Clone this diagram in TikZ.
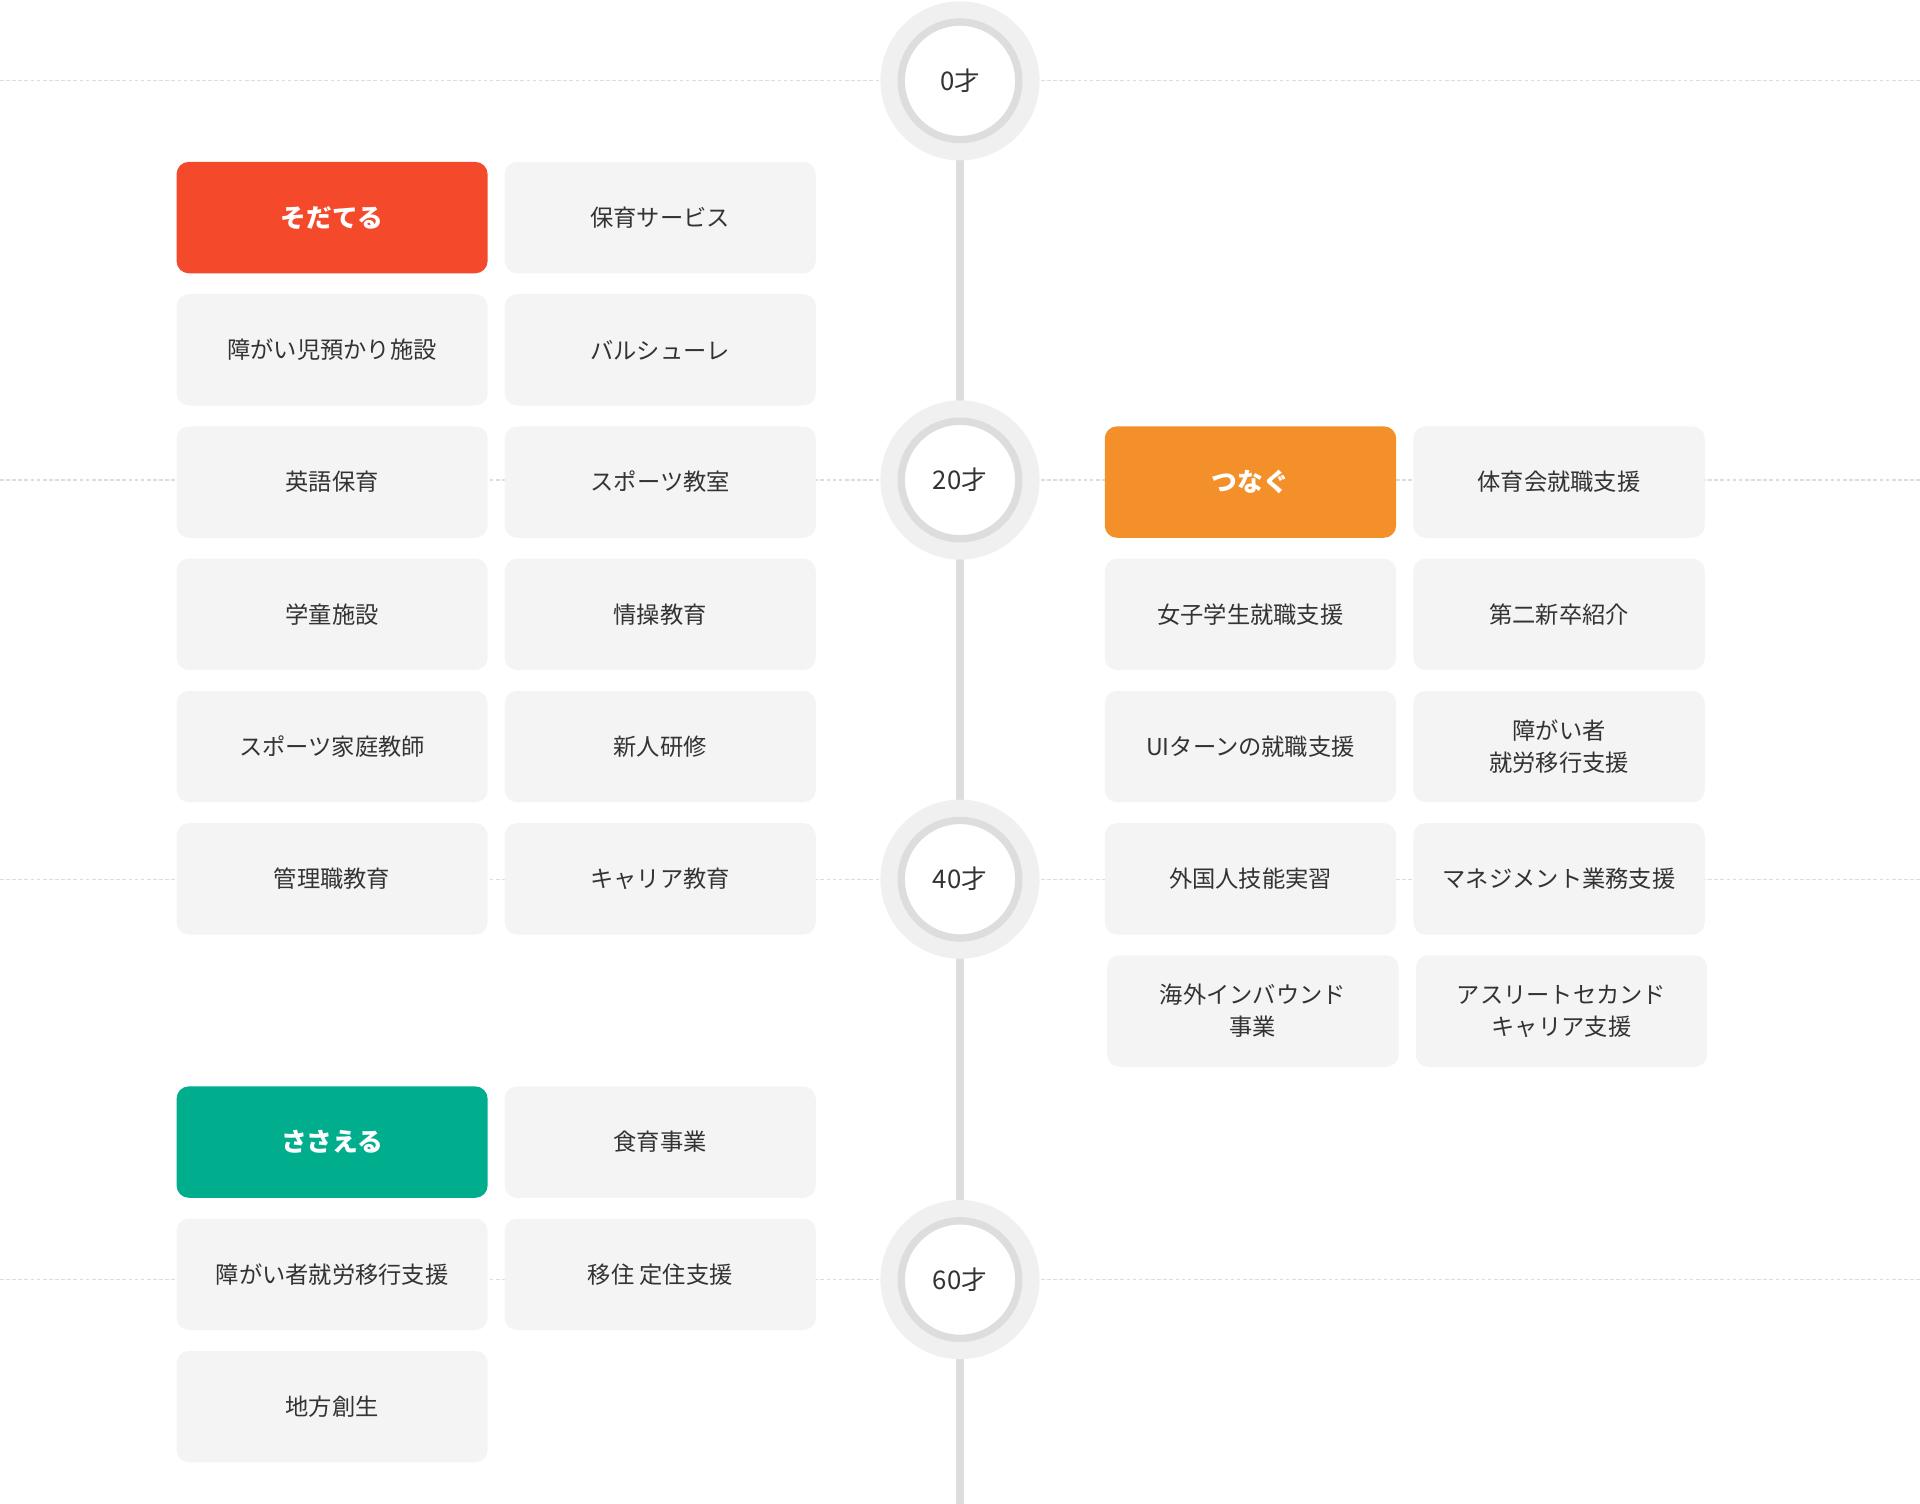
\documentclass[tikz,border=0pt]{standalone}
\usepackage{fontspec}
\setmainfont{Noto Sans CJK JP}
\definecolor{boxg}{HTML}{F4F4F4}
\definecolor{lineg}{HTML}{DDDDDD}
\definecolor{ringg}{HTML}{F0F0F0}
\definecolor{cred}{HTML}{F4492B}
\definecolor{corg}{HTML}{F39029}
\definecolor{cgrn}{HTML}{00AE8E}
\definecolor{txt}{HTML}{333333}
\tikzset{
 card/.style={fill=boxg,rounded corners=10pt,minimum height=91pt,inner sep=0pt,text=txt,font=\fontsize{19}{26}\selectfont,align=center,anchor=north west},
 lcard/.style={card,minimum width=254pt},
 rcard/.style={card,minimum width=238pt},
 head/.style={text=white,font=\fontsize{21}{26}\selectfont\bfseries},
 guide/.style={draw=lineg,densely dashed,line width=1pt},
 ring/.style={circle,fill=ringg,minimum size=130pt},
 age/.style={circle,fill=white,draw=lineg,line width=6pt,minimum size=96pt,text=txt,font=\fontsize{21}{26}\selectfont},
}
\begin{document}
\begin{tikzpicture}[x=1pt,y=-1pt]
\useasboundingbox (0,0) rectangle (1568,1228);
\foreach \y in {66,392,718,1045} \draw[guide] (0,\y) -- (1568,\y);
\coordinate (top) at (784,66); \coordinate (bot) at (784,1228);
\draw[lineg,line width=6pt] (top) -- (bot);
\foreach \y/\t/\n in {66/0才/a0,392/20才/a20,718/40才/a40,1045/60才/a60}{
 \node[ring] at (784,\y) {};
 \node[age] (\n) at (784,\y) {\t};
}
% left
\node[lcard,fill=cred,head] (s1) at (144,132) {そだてる};
\node[lcard] (s2) at (412,132) {保育サービス};
\node[lcard] (s3) at (144,240) {障がい児預かり施設};
\node[lcard] (s4) at (412,240) {バルシューレ};
\node[lcard] (s5) at (144,348) {英語保育};
\node[lcard] (s6) at (412,348) {スポーツ教室};
\node[lcard] (s7) at (144,456) {学童施設};
\node[lcard] (s8) at (412,456) {情操教育};
\node[lcard] (s9) at (144,564) {スポーツ家庭教師};
\node[lcard] (s10) at (412,564) {新人研修};
\node[lcard] (s11) at (144,672) {管理職教育};
\node[lcard] (s12) at (412,672) {キャリア教育};
\node[lcard,fill=cgrn,head] (k1) at (144,887) {ささえる};
\node[lcard] (k2) at (412,887) {食育事業};
\node[lcard] (k3) at (144,995) {障がい者就労移行支援};
\node[lcard] (k4) at (412,995) {移住 定住支援};
\node[lcard] (k5) at (144,1103) {地方創生};
% right
\node[rcard,fill=corg,head] (t1) at (902,348) {つなぐ};
\node[rcard] (t2) at (1154,348) {体育会就職支援};
\node[rcard] (t3) at (902,456) {女子学生就職支援};
\node[rcard] (t4) at (1154,456) {第二新卒紹介};
\node[rcard] (t5) at (902,564) {UIターンの就職支援};
\node[rcard] (t6) at (1154,564) {障がい者\\就労移行支援};
\node[rcard] (t7) at (902,672) {外国人技能実習};
\node[rcard] (t8) at (1154,672) {マネジメント業務支援};
\node[rcard] (t9) at (904,780) {海外インバウンド\\事業};
\node[rcard] (t10) at (1156,780) {アスリートセカンド\\キャリア支援};
\end{tikzpicture}
\end{document}
